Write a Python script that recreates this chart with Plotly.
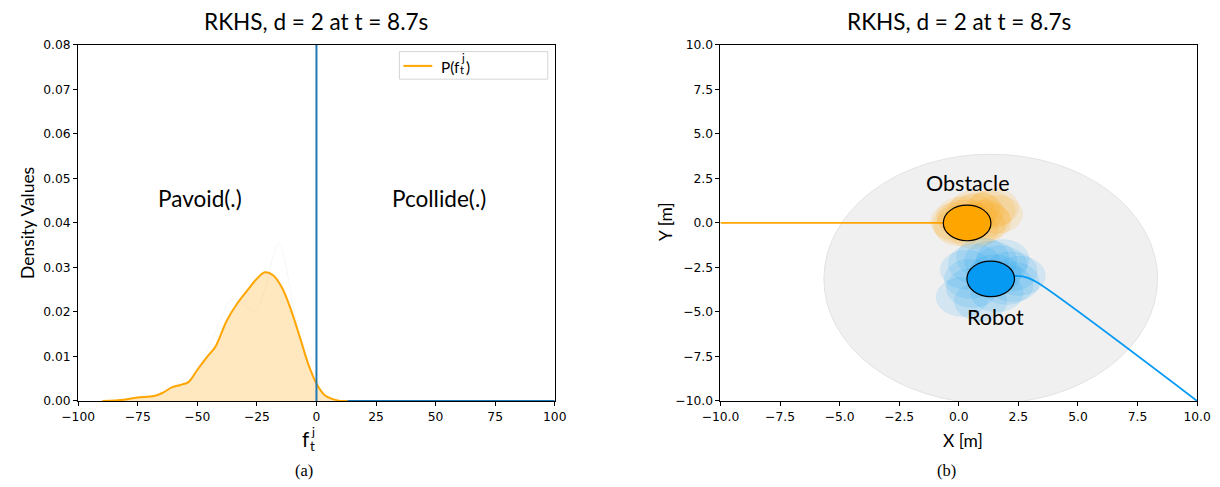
import plotly.graph_objects as go

# ---------------- data ----------------
# left panel: density of f_t^j
dens_x = [-89.9, -80.8, -75.2, -68.2, -64.7, -60.5, -57.1, -53.6, -50.1, -45.3, -42.5,
          -37.6, -33.4, -27.9, -25.1, -21.6, -18.1, -14.6, -11.1, -7.0, -3.5, 0.0,
          3.5, 8.4, 13.0]
dens_y = [0.0, 0.0003, 0.0008, 0.0011, 0.0018, 0.0031, 0.0036, 0.0043, 0.0069, 0.0103,
          0.0121, 0.0181, 0.0218, 0.0256, 0.0274, 0.0289, 0.0282, 0.0256, 0.0211, 0.0144,
          0.0084, 0.0039, 0.0013, 0.0002, 0.0]
ghost_x = [-60.0, -50.0, -42.0, -37.0, -34.0, -30.0, -26.5, -22.0, -18.0, -16.0, -14.0, -10.0, -6.0]
ghost_y = [0.0031, 0.0075, 0.0160, 0.0220, 0.0231, 0.0215, 0.0200, 0.0245, 0.0330, 0.0352,
           0.0330, 0.0220, 0.0120]
collide_x = [13.0, 100.0]
collide_y = [0.0, 0.0]
boundary_x = [0.0, 0.0]
boundary_y = [0.0, 0.08]
left_xticks = [-100, -75, -50, -25, 0, 25, 50, 75, 100]
left_yticks = [0.00, 0.01, 0.02, 0.03, 0.04, 0.05, 0.06, 0.07, 0.08]

# right panel: scene
obstacle_center = (0.35, 0.0)
robot_center = (1.34, -3.14)
agent_radius = 1.0
sensing_radius = 7.0
obs_path_x = [-10.0, 0.35]
obs_path_y = [0.0, 0.0]
rob_path_x = [1.34, 2.3, 2.9, 3.3, 10.0]
rob_path_y = [-3.14, -2.97, -3.08, -3.35, -10.0]
obs_blob_dx = [-0.6, -0.3, 0.2, 0.6, 1.2, 1.6, 0.9, -0.4, 0.3, 0.7, -0.2, 1.0, 0.4, -0.5, 1.4]
obs_blob_dy = [0.1, 0.5, 0.7, 0.8, 0.9, 0.6, 0.3, -0.3, -0.5, -0.2, 0.3, 0.1, 1.0, -0.1, 1.1]
rob_blob_dx = [-1.2, -0.8, -0.4, 0.0, 0.5, 1.0, 1.4, -0.9, 0.3, 0.8, -0.5, 0.2, 1.1, -1.0, 0.6, -1.4]
rob_blob_dy = [0.6, 1.0, 1.4, 1.2, 0.9, 0.5, 0.2, -0.6, -0.9, -0.4, -1.5, 0.3, -0.2, 0.0, 1.3, -1.2]
right_ticks = [-10.0, -7.5, -5.0, -2.5, 0.0, 2.5, 5.0, 7.5, 10.0]

# ---------------- styling ----------------
W, H = 1220, 487
ORANGE = "#FFA500"
BLUE_MPL = "#1f77b4"
AZURE = "#069AF3"
LABEL_FONT = "Lato"
K = 1.025  # font scale
TICK_FONT = dict(family="DejaVu Sans", size=12 * K, color="black")

# mapping from target-picture pixels to page pixels (compensates the capture inset)
SX, OX = 0.977, 18.0
SY, OY = 0.973, 6.0


def tx(t):
    return ((t - OX) / SX) / W


def ty(t):
    return 1 - ((t - OY) / SY) / H


def clamp_ty(t, margin):
    p = (t - OY) / SY
    p = min(max(p, margin), H - margin)
    return 1 - p / H


def clamp_tx(t, margin):
    p = (t - OX) / SX
    p = min(max(p, margin), W - margin)
    return p / W


fig = go.Figure()

# left panel traces
fig.add_trace(go.Scatter(x=ghost_x, y=ghost_y, mode="lines",
                         line=dict(color="rgba(200,215,225,0.2)", width=1, shape="spline"),
                         xaxis="x", yaxis="y", showlegend=False, hoverinfo="skip"))
fig.add_trace(go.Scatter(x=dens_x, y=dens_y, mode="lines", line=dict(color=ORANGE, width=2, shape="spline"),
                         fill="tozeroy", fillcolor="rgba(255,165,0,0.25)", xaxis="x", yaxis="y",
                         showlegend=False, hoverinfo="skip"))
fig.add_trace(go.Scatter(x=collide_x, y=collide_y, mode="lines", line=dict(color=BLUE_MPL, width=2),
                         xaxis="x", yaxis="y", showlegend=False, hoverinfo="skip", cliponaxis=False))
fig.add_trace(go.Scatter(x=boundary_x, y=boundary_y, mode="lines", line=dict(color=BLUE_MPL, width=2),
                         xaxis="x", yaxis="y", showlegend=False, hoverinfo="skip"))

# right panel traces
fig.add_trace(go.Scatter(x=obs_path_x, y=obs_path_y, mode="lines", line=dict(color=ORANGE, width=1.8),
                         xaxis="x2", yaxis="y2", showlegend=False, hoverinfo="skip", cliponaxis=False))
fig.add_trace(go.Scatter(x=rob_path_x, y=rob_path_y, mode="lines", line=dict(color=AZURE, width=1.8, shape="spline"),
                         xaxis="x2", yaxis="y2", showlegend=False, hoverinfo="skip", cliponaxis=False))

shapes = []
shapes.append(dict(type="circle", xref="x2", yref="y2", layer="below",
                   x0=robot_center[0] - sensing_radius, x1=robot_center[0] + sensing_radius,
                   y0=robot_center[1] - sensing_radius, y1=robot_center[1] + sensing_radius,
                   fillcolor="#f0f0f0", line=dict(color="#e2e2e2", width=1)))
for dx, dy in zip(obs_blob_dx, obs_blob_dy):
    cx, cy = obstacle_center[0] + dx * 0.8, obstacle_center[1] + dy * 0.8
    shapes.append(dict(type="circle", xref="x2", yref="y2", x0=cx - 1.05, x1=cx + 1.05,
                       y0=cy - 1.05, y1=cy + 1.05, fillcolor="rgba(255,165,0,0.13)",
                       line=dict(color="rgba(255,165,0,0.10)", width=0.5)))
for dx, dy in zip(rob_blob_dx, rob_blob_dy):
    cx, cy = robot_center[0] + dx * 0.85, robot_center[1] + dy * 0.85
    shapes.append(dict(type="circle", xref="x2", yref="y2", x0=cx - 1.1, x1=cx + 1.1,
                       y0=cy - 1.1, y1=cy + 1.1, fillcolor="rgba(6,154,243,0.12)",
                       line=dict(color="rgba(6,154,243,0.10)", width=0.5)))
for (cx, cy), col in [(obstacle_center, ORANGE), (robot_center, AZURE)]:
    shapes.append(dict(type="circle", xref="x2", yref="y2", x0=cx - agent_radius, x1=cx + agent_radius,
                       y0=cy - agent_radius, y1=cy + agent_radius, fillcolor=col,
                       line=dict(color="black", width=1.2)))

# custom legend box for left panel
shapes.append(dict(type="rect", xref="paper", yref="paper", x0=tx(400), x1=tx(549), y0=ty(78.3), y1=ty(50.7),
                   fillcolor="white", line=dict(color="#d5d5d5", width=1)))
shapes.append(dict(type="line", xref="paper", yref="paper", x0=tx(404), x1=tx(433), y0=ty(65), y1=ty(65),
                   line=dict(color=ORANGE, width=2)))

ann = []


def text(x, y, s, size, family=LABEL_FONT, xanchor="center", yanchor="middle", angle=0, xref="paper", yref="paper"):
    ann.append(dict(x=x, y=y, xref=xref, yref=yref, text=s, showarrow=False, xanchor=xanchor, yanchor=yanchor,
                    textangle=angle, borderpad=0, font=dict(family=family, size=size * K, color="black")))


# titles
text(tx(316.7), ty(21), "RKHS, d = 2 at t = 8.7s", 22)
text(tx(961.7), ty(21), "RKHS, d = 2 at t = 8.7s", 22)
# left labels
text(clamp_tx(18, 8.5), ty(222), "Density Values", 17, angle=-90)
text(tx(310), ty(439), "f", 20, xanchor="right")
text(tx(310), ty(431), "j", 12, xanchor="left")
text(tx(309.5), ty(446), "t", 13, xanchor="left")
text(-48.8, 0.0455, "Pavoid(.)", 22, xref="x", yref="y")
text(51.5, 0.0455, "Pcollide(.)", 22, xref="x", yref="y")
# legend text
text(tx(462), ty(66), "P(f", 15, xanchor="right")
text(tx(460.5), ty(57), "j", 11, xanchor="left")
text(tx(460), ty(69), "t", 11, xanchor="left")
text(tx(465.5), ty(66), ")", 15, xanchor="left")
# right labels
text(tx(667), ty(221), "Y [m]", 17, angle=-90)
text(tx(966), ty(440), "X [m]", 17)
text(0.39, 2.26, "Obstacle", 21, xref="x2", yref="y2")
text(1.54, -5.26, "Robot", 21, xref="x2", yref="y2")
# captions
text(tx(304), clamp_ty(476, 9.5), "(a)", 16, family="Liberation Serif")
text(tx(949), clamp_ty(476, 9.5), "(b)", 16, family="Liberation Serif")

axis_common = dict(showgrid=False, zeroline=False, showline=True, mirror=True, linecolor="black", linewidth=1,
                   ticks="outside", ticklen=4, tickcolor="black", tickfont=TICK_FONT)

fig.update_layout(
    width=W, height=H, margin=dict(l=0, r=0, t=0, b=0), paper_bgcolor="white", plot_bgcolor="white",
    showlegend=False,
    xaxis=dict(domain=[tx(77.4), tx(556)], range=[-100, 100], tickvals=left_xticks, anchor="y", **axis_common),
    yaxis=dict(domain=[ty(400.7), ty(44)], range=[0, 0.08], tickvals=left_yticks, tickformat=".2f",
               anchor="x", **axis_common),
    xaxis2=dict(domain=[tx(722.4), tx(1201)], range=[-10, 10], tickvals=right_ticks, tickformat=".1f",
                anchor="y2", **axis_common),
    yaxis2=dict(domain=[ty(400.7), ty(44)], range=[-10, 10], tickvals=right_ticks, tickformat=".1f",
                anchor="x2", **axis_common),
    shapes=shapes, annotations=ann,
)

fig.write_html("out.html", config={"displayModeBar": False},
               post_script="document.body.style.margin='0';document.body.style.overflow='hidden';")
